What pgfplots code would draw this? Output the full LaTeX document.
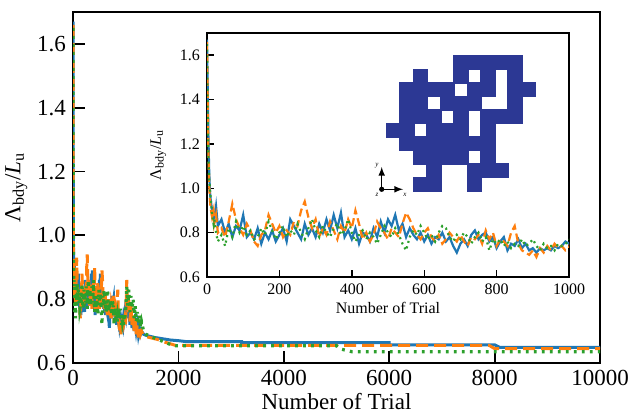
\documentclass[border=0pt]{standalone}
\usepackage{fontspec}
\setmainfont{Liberation Serif}
\usepackage{pgfplots}
\usepackage{pgfplotstable}
\pgfplotsset{compat=1.18}

\definecolor{cblue}{HTML}{1F77B4}
\definecolor{corange}{HTML}{FF7F0E}
\definecolor{cgreen}{HTML}{2CA02C}
\definecolor{navy}{RGB}{44,56,148}

% trial, Lambda_bdy / L_u
\pgfplotstableread{
x y
0 1.67
2 1.45
4 1.22
6 1.08
8 0.99
10 0.95
14 0.90
18 0.88
20 0.86
25 0.92
30 0.83
40 0.86
50 0.80
60 0.84
70 0.78
80 0.83
90 0.81
100 0.88
110 0.78
120 0.80
130 0.77
140 0.82
150 0.75
160 0.80
170 0.77
180 0.81
190 0.76
200 0.79
210 0.82
220 0.76
230 0.86
240 0.83
250 0.80
260 0.77
270 0.84
280 0.79
290 0.82
300 0.78
310 0.84
320 0.80
330 0.86
340 0.81
350 0.88
360 0.82
370 0.89
380 0.78
390 0.81
400 0.77
410 0.82
420 0.75
430 0.80
440 0.79
450 0.76
460 0.82
470 0.78
480 0.85
490 0.80
500 0.86
510 0.83
520 0.88
530 0.81
540 0.84
550 0.78
560 0.82
570 0.79
580 0.77
590 0.80
600 0.76
610 0.79
620 0.75
630 0.78
640 0.77
650 0.80
660 0.76
670 0.78
680 0.74
690 0.71
700 0.75
710 0.77
720 0.74
730 0.79
740 0.81
750 0.77
760 0.79
770 0.80
780 0.76
790 0.78
800 0.73
810 0.76
820 0.78
830 0.72
840 0.75
850 0.74
860 0.77
870 0.73
880 0.75
890 0.72
900 0.73
910 0.71
920 0.73
930 0.72
940 0.73
950 0.72
960 0.74
970 0.73
980 0.74
990 0.76
1000 0.75
1020 0.80
1040 0.74
1060 0.78
1080 0.72
1100 0.76
1120 0.71
1140 0.74
1160 0.70
1180 0.73
1200 0.70
1220 0.72
1240 0.69
1260 0.71
1280 0.69
1300 0.70
1340 0.69
1380 0.687
1450 0.684
1550 0.680
1700 0.676
1850 0.672
2000 0.670
2150 0.667
3200 0.667
3200 0.664
6000 0.664
6000 0.657
8000 0.657
8100 0.649
10000 0.649
}\blue

\pgfplotstableread{
x y
0 1.66
2 1.40
4 1.15
6 1.02
8 0.95
10 0.91
14 0.87
18 0.90
20 0.84
25 0.88
30 0.80
40 0.82
50 0.78
60 0.85
70 0.93
80 0.86
90 0.82
100 0.79
110 0.84
120 0.81
130 0.76
140 0.74
150 0.79
160 0.81
170 0.88
180 0.84
190 0.80
200 0.83
210 0.78
220 0.81
230 0.79
240 0.85
250 0.83
260 0.90
270 0.94
280 0.87
290 0.82
300 0.86
310 0.78
320 0.82
330 0.79
340 0.85
350 0.81
360 0.77
370 0.83
380 0.80
390 0.86
400 0.82
410 0.90
420 0.84
430 0.77
440 0.80
450 0.76
460 0.79
470 0.85
480 0.82
490 0.80
500 0.77
510 0.82
520 0.80
530 0.78
540 0.84
550 0.89
560 0.86
570 0.82
580 0.79
590 0.77
600 0.80
610 0.82
620 0.78
630 0.76
640 0.79
650 0.75
660 0.77
670 0.80
680 0.78
690 0.76
700 0.79
710 0.76
720 0.74
730 0.78
740 0.77
750 0.79
760 0.75
770 0.81
780 0.77
790 0.80
800 0.74
810 0.77
820 0.76
830 0.74
840 0.80
850 0.83
860 0.75
870 0.72
880 0.71
890 0.70
900 0.72
910 0.69
920 0.73
930 0.71
940 0.74
950 0.72
960 0.75
970 0.73
980 0.74
990 0.72
1000 0.73
1020 0.86
1040 0.76
1060 0.80
1080 0.73
1100 0.78
1120 0.72
1140 0.75
1160 0.70
1180 0.74
1200 0.69
1220 0.72
1240 0.68
1260 0.71
1280 0.69
1300 0.70
1340 0.685
1380 0.683
1450 0.680
1600 0.674
1750 0.665
1850 0.660
1950 0.655
7900 0.655
8000 0.645
10000 0.645
}\orange

\pgfplotstableread{
x y
0 1.65
2 1.30
4 1.12
6 1.04
8 1.00
10 0.96
14 0.88
18 0.84
20 0.86
25 0.80
30 0.76
40 0.79
50 0.74
60 0.82
70 0.78
80 0.85
90 0.80
100 0.83
110 0.79
120 0.81
130 0.77
140 0.78
150 0.82
160 0.79
170 0.85
180 0.81
190 0.77
200 0.80
210 0.83
220 0.78
230 0.81
240 0.79
250 0.84
260 0.80
270 0.77
280 0.82
290 0.86
300 0.81
310 0.78
320 0.83
330 0.80
340 0.78
350 0.82
360 0.84
370 0.79
380 0.81
390 0.86
400 0.80
410 0.76
420 0.79
430 0.81
440 0.77
450 0.80
460 0.78
470 0.75
480 0.79
490 0.83
500 0.80
510 0.78
520 0.82
530 0.79
540 0.75
550 0.72
560 0.78
570 0.81
580 0.79
590 0.83
600 0.80
610 0.77
620 0.79
630 0.76
640 0.80
650 0.83
660 0.82
670 0.78
680 0.76
690 0.79
700 0.77
710 0.80
720 0.78
730 0.75
740 0.78
750 0.80
760 0.76
770 0.78
780 0.72
790 0.77
800 0.75
810 0.77
820 0.74
830 0.76
840 0.73
850 0.75
860 0.74
870 0.77
880 0.74
890 0.75
900 0.77
910 0.74
920 0.72
930 0.75
940 0.73
950 0.74
960 0.72
970 0.75
980 0.74
990 0.75
1000 0.76
1020 0.84
1040 0.78
1060 0.83
1080 0.76
1100 0.81
1120 0.77
1140 0.80
1160 0.74
1180 0.78
1200 0.73
1220 0.76
1240 0.72
1260 0.75
1280 0.71
1300 0.73
1340 0.70
1380 0.69
1450 0.686
1550 0.678
1700 0.668
1850 0.658
1950 0.654
5000 0.654
5100 0.643
5300 0.635
10000 0.635
}\green

\begin{document}
\begin{tikzpicture}
\path[use as bounding box] (-36.5pt,-25pt) rectangle (278.5pt,181.5pt);

% main axis
\begin{axis}[
    scale only axis,
    width=263.5pt, height=175.5pt,
    xmin=0, xmax=10000,
    ymin=0.6, ymax=1.7,
    xtick={0,2000,4000,6000,8000,10000},
    ytick={0.6,0.8,1.0,1.2,1.4,1.6},
    tick pos=left,
    tick align=inside,
    major tick length=6pt,
    axis line style={line width=1pt},
    every tick/.style={line width=0.9pt, black},
    scaled x ticks=false,
    /pgf/number format/assume math mode=true,
    xticklabel={\rmfamily\pgfmathprintnumber[set thousands separator={}]{\tick}},
    yticklabel={\rmfamily\pgfmathprintnumber[fixed, fixed zerofill, precision=1]{\tick}},
    tick label style={font=\fontsize{11.5}{12}\selectfont},
    label style={font=\fontsize{11.5}{12}\selectfont},
    xlabel={Number of Trial},
    ylabel={Λ\textsubscript{bdy}/\textit{L}\textsubscript{u}},
    xlabel style={yshift=3pt},
    ylabel style={yshift=-2pt},
]
\addplot[cblue, line width=1.5pt] table {\blue};
\addplot[corange, line width=1.5pt, dash pattern=on 6pt off 3pt] table {\orange};
\addplot[cgreen, line width=1.6pt, dash pattern=on 1.4pt off 2.6pt] table {\green};
\end{axis}

% inset
\begin{axis}[
    at={(67pt,43pt)}, anchor=south west,
    scale only axis,
    width=181pt, height=122pt,
    axis background/.style={fill=white},
    xmin=0, xmax=1000,
    ymin=0.6, ymax=1.7,
    xtick={0,200,400,600,800,1000},
    ytick={0.6,0.8,1.0,1.2,1.4,1.6},
    tick pos=left,
    tick align=inside,
    major tick length=3.5pt,
    axis line style={line width=0.7pt},
    every tick/.style={line width=0.7pt, black},
    /pgf/number format/assume math mode=true,
    xticklabel={\rmfamily\pgfmathprintnumber[set thousands separator={}]{\tick}},
    yticklabel={\rmfamily\pgfmathprintnumber[fixed, fixed zerofill, precision=1]{\tick}},
    tick label style={font=\fontsize{8}{9}\selectfont},
    label style={font=\fontsize{8}{9}\selectfont},
    xlabel={Number of Trial},
    ylabel={Λ\textsubscript{bdy}/\textit{L}\textsubscript{u}},
    xlabel style={yshift=3pt},
]
\addplot[cblue, line width=1.1pt] table {\blue};
\addplot[corange, line width=1.1pt, dash pattern=on 4pt off 2pt] table {\orange};
\addplot[cgreen, line width=1.1pt, dash pattern=on 1pt off 1.8pt] table {\green};
\end{axis}

% lattice of the structure
\begin{scope}[shift={(156.85pt,153.5pt)}, x=6.75pt, y=-6.75pt]
\fill[navy, draw=navy, line width=0.8pt, line join=miter]
  (5,0) rectangle (10,1)
  (2,1) rectangle (3,2) (5,1) rectangle (6,2) (7,1) rectangle (8,2) (9,1) rectangle (10,2)
  (1,2) rectangle (5,3) (6,2) rectangle (8,3) (9,2) rectangle (11,3)
  (1,3) rectangle (3,4) (4,3) rectangle (7,4) (9,3) rectangle (10,4)
  (1,4) rectangle (4,5) (5,4) rectangle (6,5) (7,4) rectangle (10,5)
  (0,5) rectangle (2,6) (3,5) rectangle (6,6) (7,5) rectangle (8,6)
  (1,6) rectangle (8,7)
  (2,7) rectangle (6,8) (7,7) rectangle (8,8)
  (3,8) rectangle (4,9) (6,8) rectangle (9,9)
  (2,9) rectangle (4,10) (6,9) rectangle (7,10);
\end{scope}

% axes icon
\draw[-latex, line width=0.5pt] (154.35pt,86.85pt) -- (165pt,86.85pt);
\draw[-latex, line width=0.5pt] (154.35pt,86.85pt) -- (154.35pt,98pt);
\fill (154.35pt,86.85pt) circle (1.3pt);
\node[font=\fontsize{3.5}{4}\itshape, inner sep=0pt] at (166pt,84pt) {x};
\node[font=\fontsize{3.5}{4}\itshape, inner sep=0pt] at (152pt,98.5pt) {y};
\node[font=\fontsize{3.5}{4}\itshape, inner sep=0pt] at (152pt,84pt) {z};
\end{tikzpicture}
\end{document}
